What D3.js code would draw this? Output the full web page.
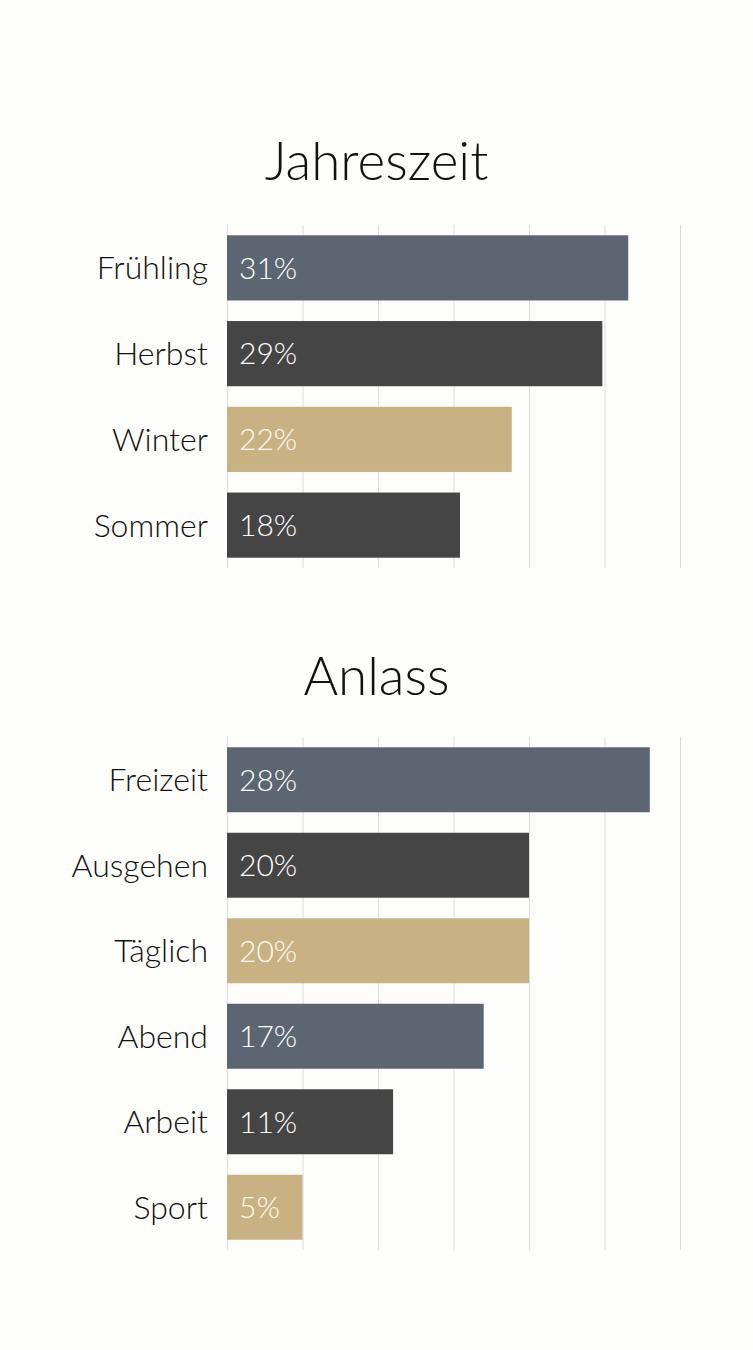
<!DOCTYPE html>
<html>
<head>
<meta charset="utf-8">
<script src="https://cdn.jsdelivr.net/npm/d3@7"></script>
<style>
  html, body { margin: 0; padding: 0; background: #fdfdfb; }
  svg text { font-family: "Lato", "Open Sans", sans-serif; }
</style>
</head>
<body>
<div class="wrapper"></div>
<script>
// chart 1
const seasonTitle = "Jahreszeit";
const seasonLabels = ["Frühling", "Herbst", "Winter", "Sommer"];
const seasonValues = [31, 29, 22, 18];
const seasonColors = ["slate", "dark", "gold", "dark"];

// chart 2
const occasionTitle = "Anlass";
const occasionLabels = ["Freizeit", "Ausgehen", "Täglich", "Abend", "Arbeit", "Sport"];
const occasionValues = [28, 20, 20, 17, 11, 5];
const occasionColors = ["slate", "dark", "gold", "slate", "dark", "gold"];

const palette = {slate: "#5c6571", dark: "#454545", gold: "#c8b283"};
const textOn = {slate: "#ffffff", dark: "#ffffff", gold: "#fffaf0"};

const w = 753, h = 1350;

const svg = d3.select(".wrapper").append("svg")
  .attr("width", w)
  .attr("height", h);

svg.append("rect").attr("width", w).attr("height", h).attr("fill", "#fdfdfb");

const left = 227, right = 680;

function drawChart(opts) {
  const g = svg.append("g");

  const x = d3.scaleLinear().domain([0, opts.max]).range([left, right]);
  const y = d3.scaleBand()
    .domain(opts.labels)
    .range([opts.top, opts.bottom])
    .paddingInner(0.24)
    .paddingOuter(0.12);

  const data = opts.labels.map((l, i) => ({label: l, value: opts.values[i], color: opts.colors[i]}));

  // title
  g.append("text")
    .attr("x", w / 2)
    .attr("y", opts.titleY)
    .attr("text-anchor", "middle")
    .attr("font-size", 53)
    .attr("font-weight", 300)
    .attr("fill", "#111")
    .text(opts.title);

  // grid, 6 equal steps
  const gridVals = d3.range(7).map(i => i * opts.max / 6);
  g.append("g")
    .attr("transform", "translate(0," + opts.bottom + ")")
    .attr("class", "grid")
    .call(d3.axisBottom(x).tickValues(gridVals).tickSizeInner(-(opts.bottom - opts.top)).tickSizeOuter(0).tickFormat(""))
    .call(a => a.select(".domain").remove())
    .call(a => a.selectAll("line").attr("stroke", "#dcdcdc").attr("stroke-width", 1));

  // bars
  g.selectAll(".bar")
    .data(data)
    .enter().append("rect")
    .attr("class", "bar")
    .attr("x", x(0))
    .attr("y", d => y(d.label))
    .attr("width", d => x(d.value) - x(0))
    .attr("height", y.bandwidth())
    .attr("fill", d => palette[d.color]);

  // value labels
  g.selectAll(".val")
    .data(data)
    .enter().append("text")
    .attr("class", "val")
    .attr("x", x(0) + 12)
    .attr("y", d => y(d.label) + y.bandwidth() / 2)
    .attr("dy", "0.36em")
    .attr("font-size", 30)
    .attr("font-weight", 300)
    .attr("fill", d => textOn[d.color])
    .text(d => d.value + "%");

  // category labels
  g.selectAll(".cat")
    .data(data)
    .enter().append("text")
    .attr("class", "cat")
    .attr("x", x(0) - 19)
    .attr("y", d => y(d.label) + y.bandwidth() / 2)
    .attr("dy", "0.36em")
    .attr("text-anchor", "end")
    .attr("font-size", 32)
    .attr("font-weight", 300)
    .attr("fill", "#111")
    .text(d => d.label);
}

drawChart({title: seasonTitle, labels: seasonLabels, values: seasonValues, colors: seasonColors,
  max: 35, titleY: 180, top: 225, bottom: 568});

drawChart({title: occasionTitle, labels: occasionLabels, values: occasionValues, colors: occasionColors,
  max: 30, titleY: 695, top: 737, bottom: 1250});
</script>
</body>
</html>
